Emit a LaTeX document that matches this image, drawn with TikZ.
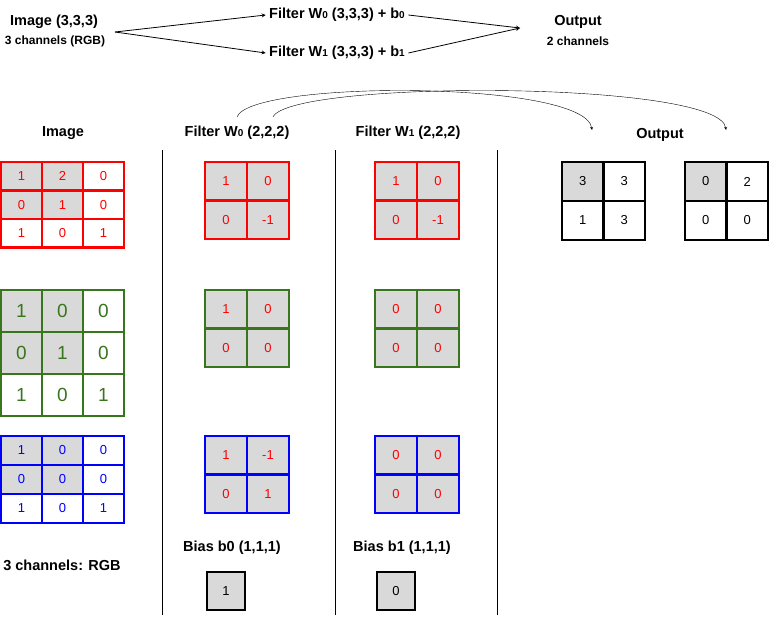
\documentclass[tikz,border=0pt]{standalone}
\usepackage{fontspec}
\setmainfont{Liberation Sans}
\usetikzlibrary{positioning}
\definecolor{cellgray}{RGB}{217,217,217}
\definecolor{imggreen}{RGB}{56,118,29}
\newcommand{\idx}[1]{{\fontsize{10}{12}\selectfont #1}}
\newcommand{\mkgrid}[9]{%
  \foreach \v [count=\i from 0] in {#9}{
    \pgfmathtruncatemacro{\c}{mod(\i,#6)}
    \pgfmathtruncatemacro{\r}{int(\i/#6)}
    \pgfmathtruncatemacro{\g}{#8}
    \ifnum\g=1 \def\fc{cellgray}\else\def\fc{white}\fi
    \node[cell, fill=\fc, minimum width=#4pt, minimum height=#5pt, #7]
      (#1-\r-\c) at ({#2+#4*(\c+0.5)},{#3+#5*(\r+0.5)}) {\v};
  }}
\begin{document}
\begin{tikzpicture}[x=1pt, y=-1pt,
  cell/.style={draw, line width=2.5pt, inner sep=0pt, font=\fontsize{13}{15}\selectfont},
  lbl/.style={font=\bfseries\fontsize{14.5}{17}\selectfont},
  sub/.style={font=\bfseries\fontsize{12}{14}\selectfont},
  arr/.style={-stealth, thick}]
\useasboundingbox (0,0) rectangle (775,625);
% top summary
\node[lbl] (img) at (54,22) {Image (3,3,3)};
\node[sub] (imgsub) at (55,41) {3 channels (RGB)};
\node[lbl] (f0) at (337,15) {Filter W\idx{0} (3,3,3) + b\idx{0}};
\node[lbl] (f1) at (337,53) {Filter W\idx{1} (3,3,3) + b\idx{1}};
\node[lbl] (out) at (578,22) {Output};
\node[sub] (outsub) at (578,41) {2 channels};
\coordinate (imgr) at (115,32);
\coordinate (join) at (520,28);
\draw[arr] (imgr) -- (f0.west);
\draw[arr] (imgr) -- (f1.west);
\draw[arr] (f0.east) -- (join);
\draw[arr] (f1.east) -- (join);
% column titles
\node[lbl] (t-img) at (63,133) {Image};
\node[lbl] (t-w0) at (237,133) {Filter W\idx{0} (2,2,2)};
\node[lbl] (t-w1) at (408,133) {Filter W\idx{1} (2,2,2)};
\node[lbl] (t-out) at (660,135) {Output};
\coordinate (s0) at (237,117);
\coordinate (s1) at (273,117);
\coordinate (e0) at (592,130);
\coordinate (e1) at (726,130);
\draw[arr, thin] (s0) .. controls (250,80) and (585,80) .. (e0);
\draw[arr, thin] (s1) .. controls (290,80) and (720,80) .. (e1);
% separators
\coordinate (v0a) at (162,150); \coordinate (v0b) at (162,615);
\coordinate (v1a) at (335,150); \coordinate (v1b) at (335,615);
\coordinate (v2a) at (497,150); \coordinate (v2b) at (497,615);
\draw[thick] (v0a) -- (v0b);
\draw[thick] (v1a) -- (v1b);
\draw[thick] (v2a) -- (v2b);
% image channels
\mkgrid{ir}{1}{162}{41}{28.5}{3}{draw=red, text=red}{and(\r<2,\c<2)}{1,2,0,0,1,0,1,0,1}
\mkgrid{ig}{1}{290}{41}{42}{3}{draw=imggreen, text=imggreen, font=\fontsize{19}{21}\selectfont}{and(\r<2,\c<2)}{1,0,0,0,1,0,1,0,1}
\mkgrid{ib}{1}{436}{41}{29}{3}{draw=blue, text=blue}{and(\r<2,\c<2)}{1,0,0,0,0,0,1,0,1}
% filter W0
\mkgrid{ar}{205}{162}{42}{38.5}{2}{draw=red, text=red}{1}{1,0,0,-1}
\mkgrid{ag}{205}{290}{42}{38.5}{2}{draw=imggreen, text=red}{1}{1,0,0,0}
\mkgrid{ab}{205}{436}{42}{38.5}{2}{draw=blue, text=red}{1}{1,-1,0,1}
% filter W1
\mkgrid{br}{375}{162}{42}{38.5}{2}{draw=red, text=red}{1}{1,0,0,-1}
\mkgrid{bg}{375}{290}{42}{38.5}{2}{draw=imggreen, text=red}{1}{0,0,0,0}
\mkgrid{bb}{375}{436}{42}{38.5}{2}{draw=blue, text=red}{1}{0,0,0,0}
% outputs
\mkgrid{o0}{562}{162}{41.5}{39}{2}{draw=black}{and(\r<1,\c<1)}{3,3,1,3}
\mkgrid{o1}{685}{162}{41.5}{39}{2}{draw=black}{and(\r<1,\c<1)}{0,2,0,0}
% bias
\node[lbl] (rgb) at (62,565) {3 channels: RGB};
\node[lbl] (lb0) at (232,548) {Bias b0 (1,1,1)};
\node[lbl] (lb1) at (402,548) {Bias b1 (1,1,1)};
\node[cell, fill=cellgray, minimum size=38pt] (bias0) at (226,591) {1};
\node[cell, fill=cellgray, minimum size=38pt] (bias1) at (396,591) {0};
\end{tikzpicture}
\end{document}
